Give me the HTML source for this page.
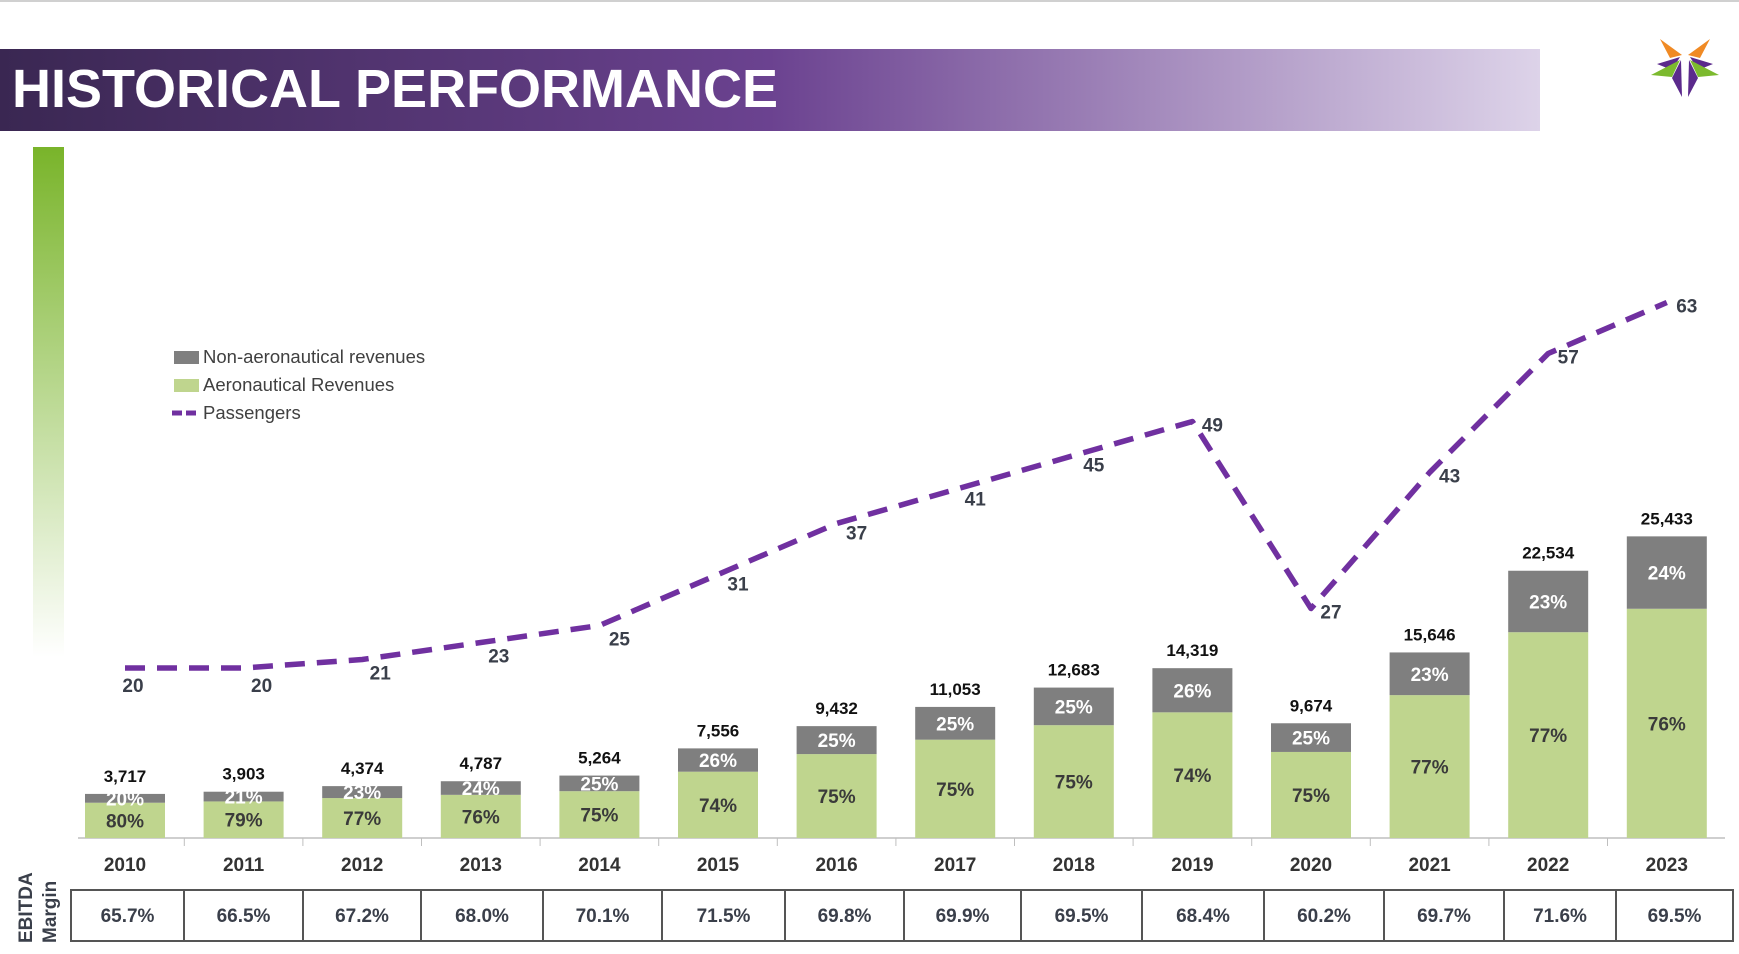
<!DOCTYPE html>
<html><head><meta charset="utf-8"><style>
html,body{margin:0;padding:0;background:#fff;}
body{width:1739px;height:954px;overflow:hidden;font-family:"Liberation Sans",sans-serif;}
svg{display:block}
</style></head><body>
<svg width="1739" height="954" viewBox="0 0 1739 954">
<defs>
<linearGradient id="banner" x1="0" x2="1" y1="0" y2="0">
<stop offset="0" stop-color="#3a2752"/><stop offset="0.5" stop-color="#6b4290"/><stop offset="1" stop-color="#ddd3e9"/>
</linearGradient>
<linearGradient id="gbar" x1="0" x2="0" y1="0" y2="1">
<stop offset="0" stop-color="#79b42a"/><stop offset="1" stop-color="#ffffff"/>
</linearGradient>
</defs>
<line x1="0" y1="1" x2="1739" y2="1" stroke="#d0d0d0" stroke-width="2"/>
<rect x="0" y="49" width="1540" height="82" fill="url(#banner)"/>
<text x="12" y="107" fill="#fff" font-size="54" font-weight="bold">HISTORICAL PERFORMANCE</text>
<rect x="33" y="147" width="31" height="510" fill="url(#gbar)"/>
<g>
<polygon points="1660,39 1682,55 1670,58" fill="#f08a24"/>
<polygon points="1710,39 1688,55 1700,58" fill="#f08a24"/>
<polygon points="1657,64 1680,57 1672,70" fill="#5b2a8c"/>
<polygon points="1713,64 1690,57 1698,70" fill="#5b2a8c"/>
<polygon points="1651,75 1680,60 1672,77" fill="#7cba2e"/>
<polygon points="1719,75 1690,60 1698,77" fill="#7cba2e"/>
<polygon points="1672,78 1681,60 1682,97" fill="#5b2a8c"/>
<polygon points="1698,78 1689,60 1688,97" fill="#5b2a8c"/>
</g>
<g font-size="18.5" fill="#404040">
<rect x="174" y="351" width="25" height="13" fill="#7f7f7f"/>
<text x="203" y="363">Non-aeronautical revenues</text>
<rect x="174" y="379" width="25" height="13" fill="#bfd58e"/>
<text x="203" y="391">Aeronautical Revenues</text>
<line x1="172" y1="413" x2="196" y2="413" stroke="#7030a0" stroke-width="5" stroke-dasharray="10 4"/>
<text x="203" y="419">Passengers</text>
</g>
<line x1="78" y1="838" x2="1725" y2="838" stroke="#bfbfbf" stroke-width="1.5"/>
<g id="plot"></g>
<text transform="translate(32,943) rotate(-90)" font-size="19" font-weight="bold" fill="#3a3f4a">EBITDA</text>
<text transform="translate(56,943) rotate(-90)" font-size="19" font-weight="bold" fill="#3a3f4a">Margin</text>
<g id="table"></g>
</svg>
<script>
const years = ['2010','2011','2012','2013','2014','2015','2016','2017','2018','2019','2020','2021','2022','2023'];
const totalRevenue = [3717,3903,4374,4787,5264,7556,9432,11053,12683,14319,9674,15646,22534,25433];
const nonAeroPct = [20,21,23,24,25,26,25,25,25,26,25,23,23,24];
const aeroPct = [80,79,77,76,75,74,75,75,75,74,75,77,77,76];
const passengers = [20,20,21,23,25,31,37,41,45,49,27,43,57,63];
const ebitdaMargin = ['65.7%','66.5%','67.2%','68.0%','70.1%','71.5%','69.8%','69.9%','69.5%','68.4%','60.2%','69.7%','71.6%','69.5%'];

const NS='http://www.w3.org/2000/svg';
const base=838;
const xC=i=>125+i*118.6;
const yRev=v=>base-v*0.01186;
const yPax=v=>base-v*8.5;
const plot=document.getElementById('plot');
function mk(tag,attrs,txt){const e=document.createElementNS(NS,tag);for(const k in attrs)e.setAttribute(k,attrs[k]);if(txt!==undefined)e.textContent=txt;return e;}
const bw=80;
years.forEach((y,i)=>{
  const cx=xC(i), top=yRev(totalRevenue[i]);
  const h=base-top, gh=h*nonAeroPct[i]/(nonAeroPct[i]+aeroPct[i]);
  const g=mk('rect',{x:cx-bw/2,y:top+gh,width:bw,height:h-gh,fill:'#bfd58e'});
  
  
  plot.appendChild(g);
  const n=mk('rect',{x:cx-bw/2,y:top,width:bw,height:gh,fill:'#7f7f7f'});
  
  
  plot.appendChild(n);
  const t=mk('text',{x:cx,y:top-12,'text-anchor':'middle','font-size':17,'font-weight':'bold',fill:'#111'},totalRevenue[i].toLocaleString('en-US'));
  
  
  plot.appendChild(t);
  const nl=mk('text',{x:cx,y:top+gh/2+7,'text-anchor':'middle','font-size':19,'font-weight':'bold',fill:'#fff'},nonAeroPct[i]+'%');
  
  
  plot.appendChild(nl);
  const al=mk('text',{x:cx,y:top+gh+(h-gh)/2+7,'text-anchor':'middle','font-size':19,'font-weight':'bold',fill:'#3a3a3a'},aeroPct[i]+'%');
  
  
  plot.appendChild(al);
  const yl=mk('text',{x:cx,y:871,'text-anchor':'middle','font-size':19,'font-weight':'bold',fill:'#333'},y);
  
  
  plot.appendChild(yl);
  if(i>0){const tk=mk('line',{x1:cx-59.3,y1:838,x2:cx-59.3,y2:846,stroke:'#bfbfbf','stroke-width':1});
  
  
  plot.appendChild(tk);}
});
const pts=passengers.map((v,i)=>xC(i)+','+yPax(v)).join(' ');
const line=mk('polyline',{points:pts,fill:'none',stroke:'#7030a0','stroke-width':5.5,'stroke-dasharray':'20 12','stroke-linejoin':'round'});


plot.appendChild(line);
passengers.forEach((v,i)=>{
  const dx=i==0?8:(i<4?18:20), dy=i<2?24:(i<5?20:(i>=9?10:16));
  const t=mk('text',{x:xC(i)+dx,y:yPax(v)+dy,'text-anchor':'middle','font-size':19,'font-weight':'bold',fill:'#3a3f4a'},v);
  
  
  plot.appendChild(t);
});
const table=document.getElementById('table');
const div=[71,184,303,421,543,662,785,904,1021,1142,1264,1384,1504,1616,1733];
const frame=mk('rect',{x:71,y:890,width:1662,height:51,fill:'#fff',stroke:'#555','stroke-width':2});


table.appendChild(frame);
ebitdaMargin.forEach((m,i)=>{
  if(i>0){const l=mk('line',{x1:div[i],y1:890,x2:div[i],y2:941,stroke:'#555','stroke-width':2});
  
  
  table.appendChild(l);}
  const t=mk('text',{x:(div[i]+div[i+1])/2,y:922,'text-anchor':'middle','font-size':19,'font-weight':'bold',fill:'#3a3f4a'},m);
  
  
  table.appendChild(t);
});
</script>
</body></html>
